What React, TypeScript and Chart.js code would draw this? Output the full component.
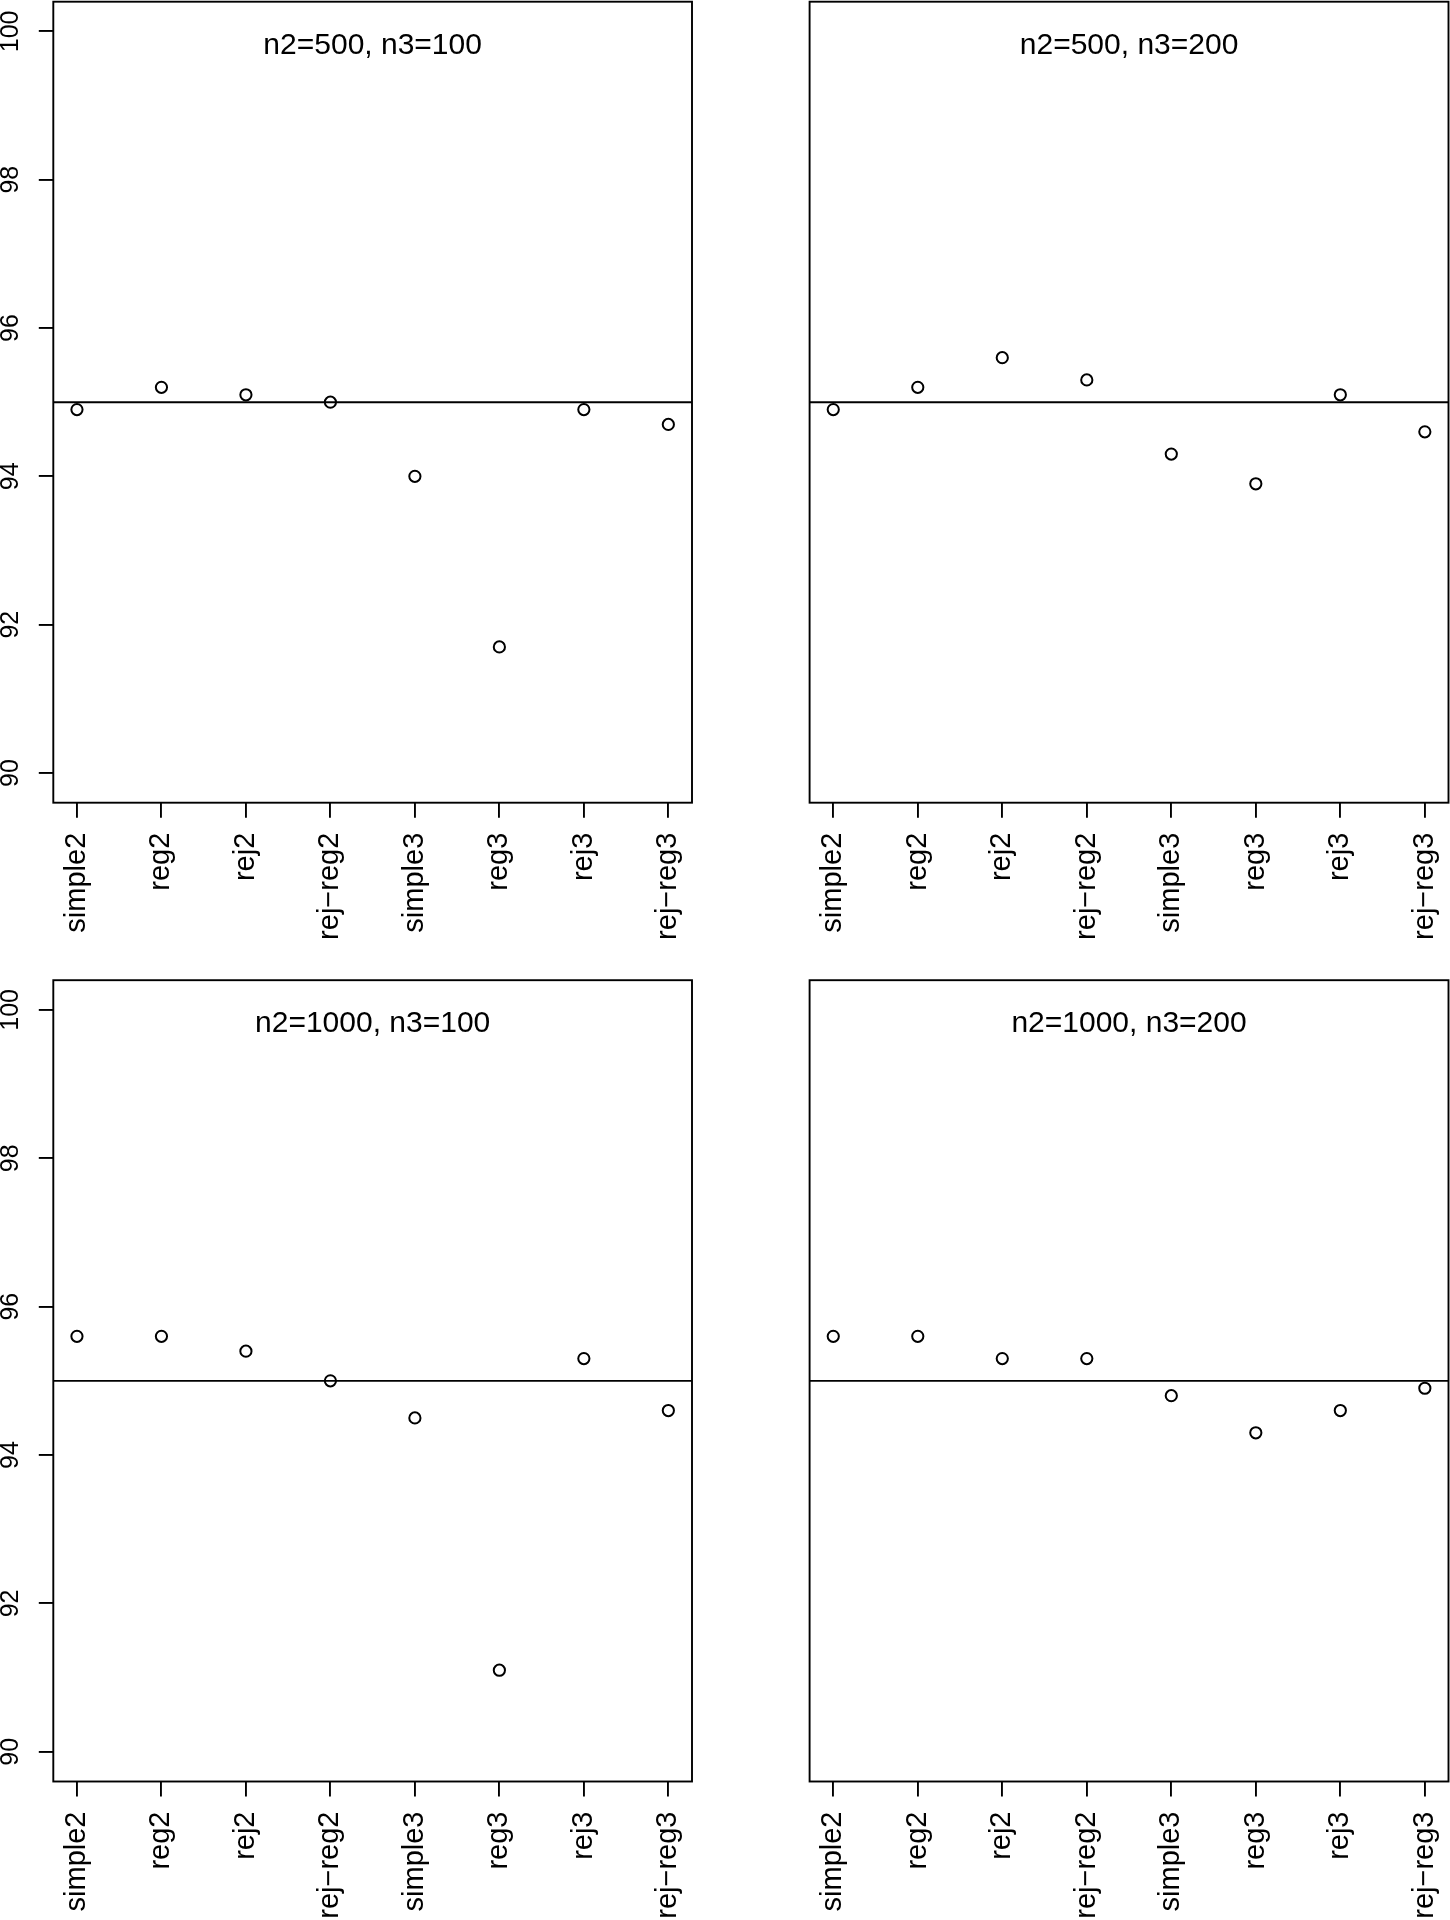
import React, { useEffect, useRef } from "react";
import { Chart, registerables } from "chart.js";

Chart.register(...registerables);

// ---------- data ----------
const categories = ["simple2", "reg2", "rej2", "rej\u2212reg2", "simple3", "reg3", "rej3", "rej\u2212reg3"];
const panelTitles = ["n2=500, n3=100", "n2=500, n3=200", "n2=1000, n3=100", "n2=1000, n3=200"];
const coverageN500N100 = [94.9, 95.2, 95.1, 95.0, 94.0, 91.7, 94.9, 94.7];
const coverageN500N200 = [94.9, 95.2, 95.6, 95.3, 94.3, 93.9, 95.1, 94.6];
const coverageN1000N100 = [95.6, 95.6, 95.4, 95.0, 94.5, 91.1, 95.3, 94.6];
const coverageN1000N200 = [95.6, 95.6, 95.3, 95.3, 94.8, 94.3, 94.6, 94.9];
const yTickValues = [90, 92, 94, 96, 98, 100];
const yLimits = [90, 100];
const referenceLevel = 95;

// ---------- layout / style ----------
const FONT = "'Liberation Sans', Helvetica, Arial, sans-serif";
const CANVAS_W = 725;
const CANVAS_H = 960;
const LINE_W = 1.9;

const ext = (lo: number, hi: number) => {
  const d = (hi - lo) * 0.04;
  return [lo - d, hi + d];
};
const [xMin, xMax] = ext(1, categories.length);
const [yMin, yMax] = ext(yLimits[0], yLimits[1]);

type PanelDef = {
  left: number;
  top: number;
  areaLeft: number;
  areaRight: number;
  areaTop: number;
  areaBottom: number;
  showY: boolean;
  title: string;
  values: number[];
};

const panels: PanelDef[] = [
  { left: 0, top: 0, areaLeft: 53.3, areaRight: 692, areaTop: 1.7, areaBottom: 802.7, showY: true, title: panelTitles[0], values: coverageN500N100 },
  { left: 725, top: 0, areaLeft: 84.6, areaRight: 723.5, areaTop: 1.7, areaBottom: 802.7, showY: false, title: panelTitles[1], values: coverageN500N200 },
  { left: 0, top: 960, areaLeft: 53.3, areaRight: 692, areaTop: 20.2, areaBottom: 821.5, showY: true, title: panelTitles[2], values: coverageN1000N100 },
  { left: 725, top: 960, areaLeft: 84.6, areaRight: 723.5, areaTop: 20.2, areaBottom: 821.5, showY: false, title: panelTitles[3], values: coverageN1000N200 },
];

function Panel({ def }: { def: PanelDef }) {
  const ref = useRef<HTMLCanvasElement | null>(null);

  useEffect(() => {
    if (!ref.current) return;

    const decor = {
      id: "rDecor",
      beforeDatasetsDraw(chart: any) {
        const { ctx, chartArea } = chart;
        const y = chart.scales.y.getPixelForValue(referenceLevel);
        ctx.save();
        ctx.strokeStyle = "#000";
        ctx.lineWidth = LINE_W;
        ctx.beginPath();
        ctx.moveTo(chartArea.left, y);
        ctx.lineTo(chartArea.right, y);
        ctx.stroke();
        ctx.restore();
      },
      afterDraw(chart: any) {
        const { ctx, chartArea } = chart;
        ctx.save();
        ctx.strokeStyle = "#000";
        ctx.lineWidth = LINE_W;
        ctx.strokeRect(chartArea.left, chartArea.top, chartArea.right - chartArea.left, chartArea.bottom - chartArea.top);
        // title inside plot
        ctx.fillStyle = "#000";
        ctx.font = `30px ${FONT}`;
        ctx.textAlign = "center";
        ctx.textBaseline = "alphabetic";
        ctx.fillText(def.title, (chartArea.left + chartArea.right) / 2, chartArea.top + 52);
        // y tick labels, parallel to the axis
        if (def.showY) {
          const ys = chart.scales.y;
          ctx.font = `25px ${FONT}`;
          ctx.textAlign = "center";
          ctx.textBaseline = "middle";
          yTickValues.forEach((v) => {
            const py = ys.getPixelForValue(v);
            ctx.save();
            ctx.translate(10.8, py);
            ctx.rotate(-Math.PI / 2);
            ctx.fillText(String(v), 0, 0);
            ctx.restore();
          });
        }
        ctx.restore();
      },
    };

    const chart = new Chart(ref.current, {
      type: "scatter",
      data: {
        datasets: [
          {
            data: def.values.map((v, i) => ({ x: i + 1, y: v })),
            pointStyle: "circle",
            pointRadius: 5.6,
            pointHoverRadius: 5.6,
            pointBorderWidth: 2,
            pointBorderColor: "#000",
            pointBackgroundColor: "rgba(0,0,0,0)",
            showLine: false,
          },
        ],
      },
      options: {
        responsive: false,
        animation: false,
        devicePixelRatio: 1,
        events: [],
        layout: {
          autoPadding: false,
          padding: {
            left: 0,
            right: CANVAS_W - def.areaRight,
            top: def.areaTop,
            bottom: 0,
          },
        },
        plugins: {
          legend: { display: false },
          tooltip: { enabled: false },
          title: { display: false },
        },
        scales: {
          x: {
            type: "linear",
            min: xMin,
            max: xMax,
            afterBuildTicks: (s: any) => {
              s.ticks = categories.map((_, i) => ({ value: i + 1 }));
            },
            afterFit: (s: any) => {
              s.height = CANVAS_H - def.areaBottom;
              s.paddingLeft = 0;
              s.paddingRight = 0;
            },
            grid: { drawOnChartArea: false, drawTicks: true, tickLength: 15, color: "#000", lineWidth: LINE_W },
            border: { display: false },
            ticks: {
              autoSkip: false,
              minRotation: 90,
              maxRotation: 90,
              padding: 15,
              color: "#000",
              font: { family: FONT, size: 29 },
              callback: (v: any) => categories[Math.round(Number(v)) - 1] ?? "",
            },
          },
          y: {
            type: "linear",
            display: true,
            min: yMin,
            max: yMax,
            afterBuildTicks: (s: any) => {
              s.ticks = yTickValues.map((v) => ({ value: v }));
            },
            afterFit: (s: any) => {
              s.width = def.areaLeft;
              s.paddingTop = 0;
              s.paddingBottom = 0;
            },
            grid: { display: def.showY, drawOnChartArea: false, drawTicks: true, tickLength: 14.5, color: "#000", lineWidth: LINE_W },
            border: { display: false },
            ticks: { display: false },
          },
        },
      },
      plugins: [decor],
    } as any);

    return () => chart.destroy();
  }, [def]);

  return (
    <canvas
      ref={ref}
      width={CANVAS_W}
      height={CANVAS_H}
      style={{ position: "absolute", left: def.left, top: def.top, width: CANVAS_W, height: CANVAS_H, display: "block" }}
    />
  );
}

export default function App() {
  return (
    <div style={{ position: "absolute", left: 0, top: 0, width: 1450, height: 1920, background: "#fff", overflow: "hidden" }}>
      {panels.map((p, i) => (
        <Panel key={i} def={p} />
      ))}
    </div>
  );
}
